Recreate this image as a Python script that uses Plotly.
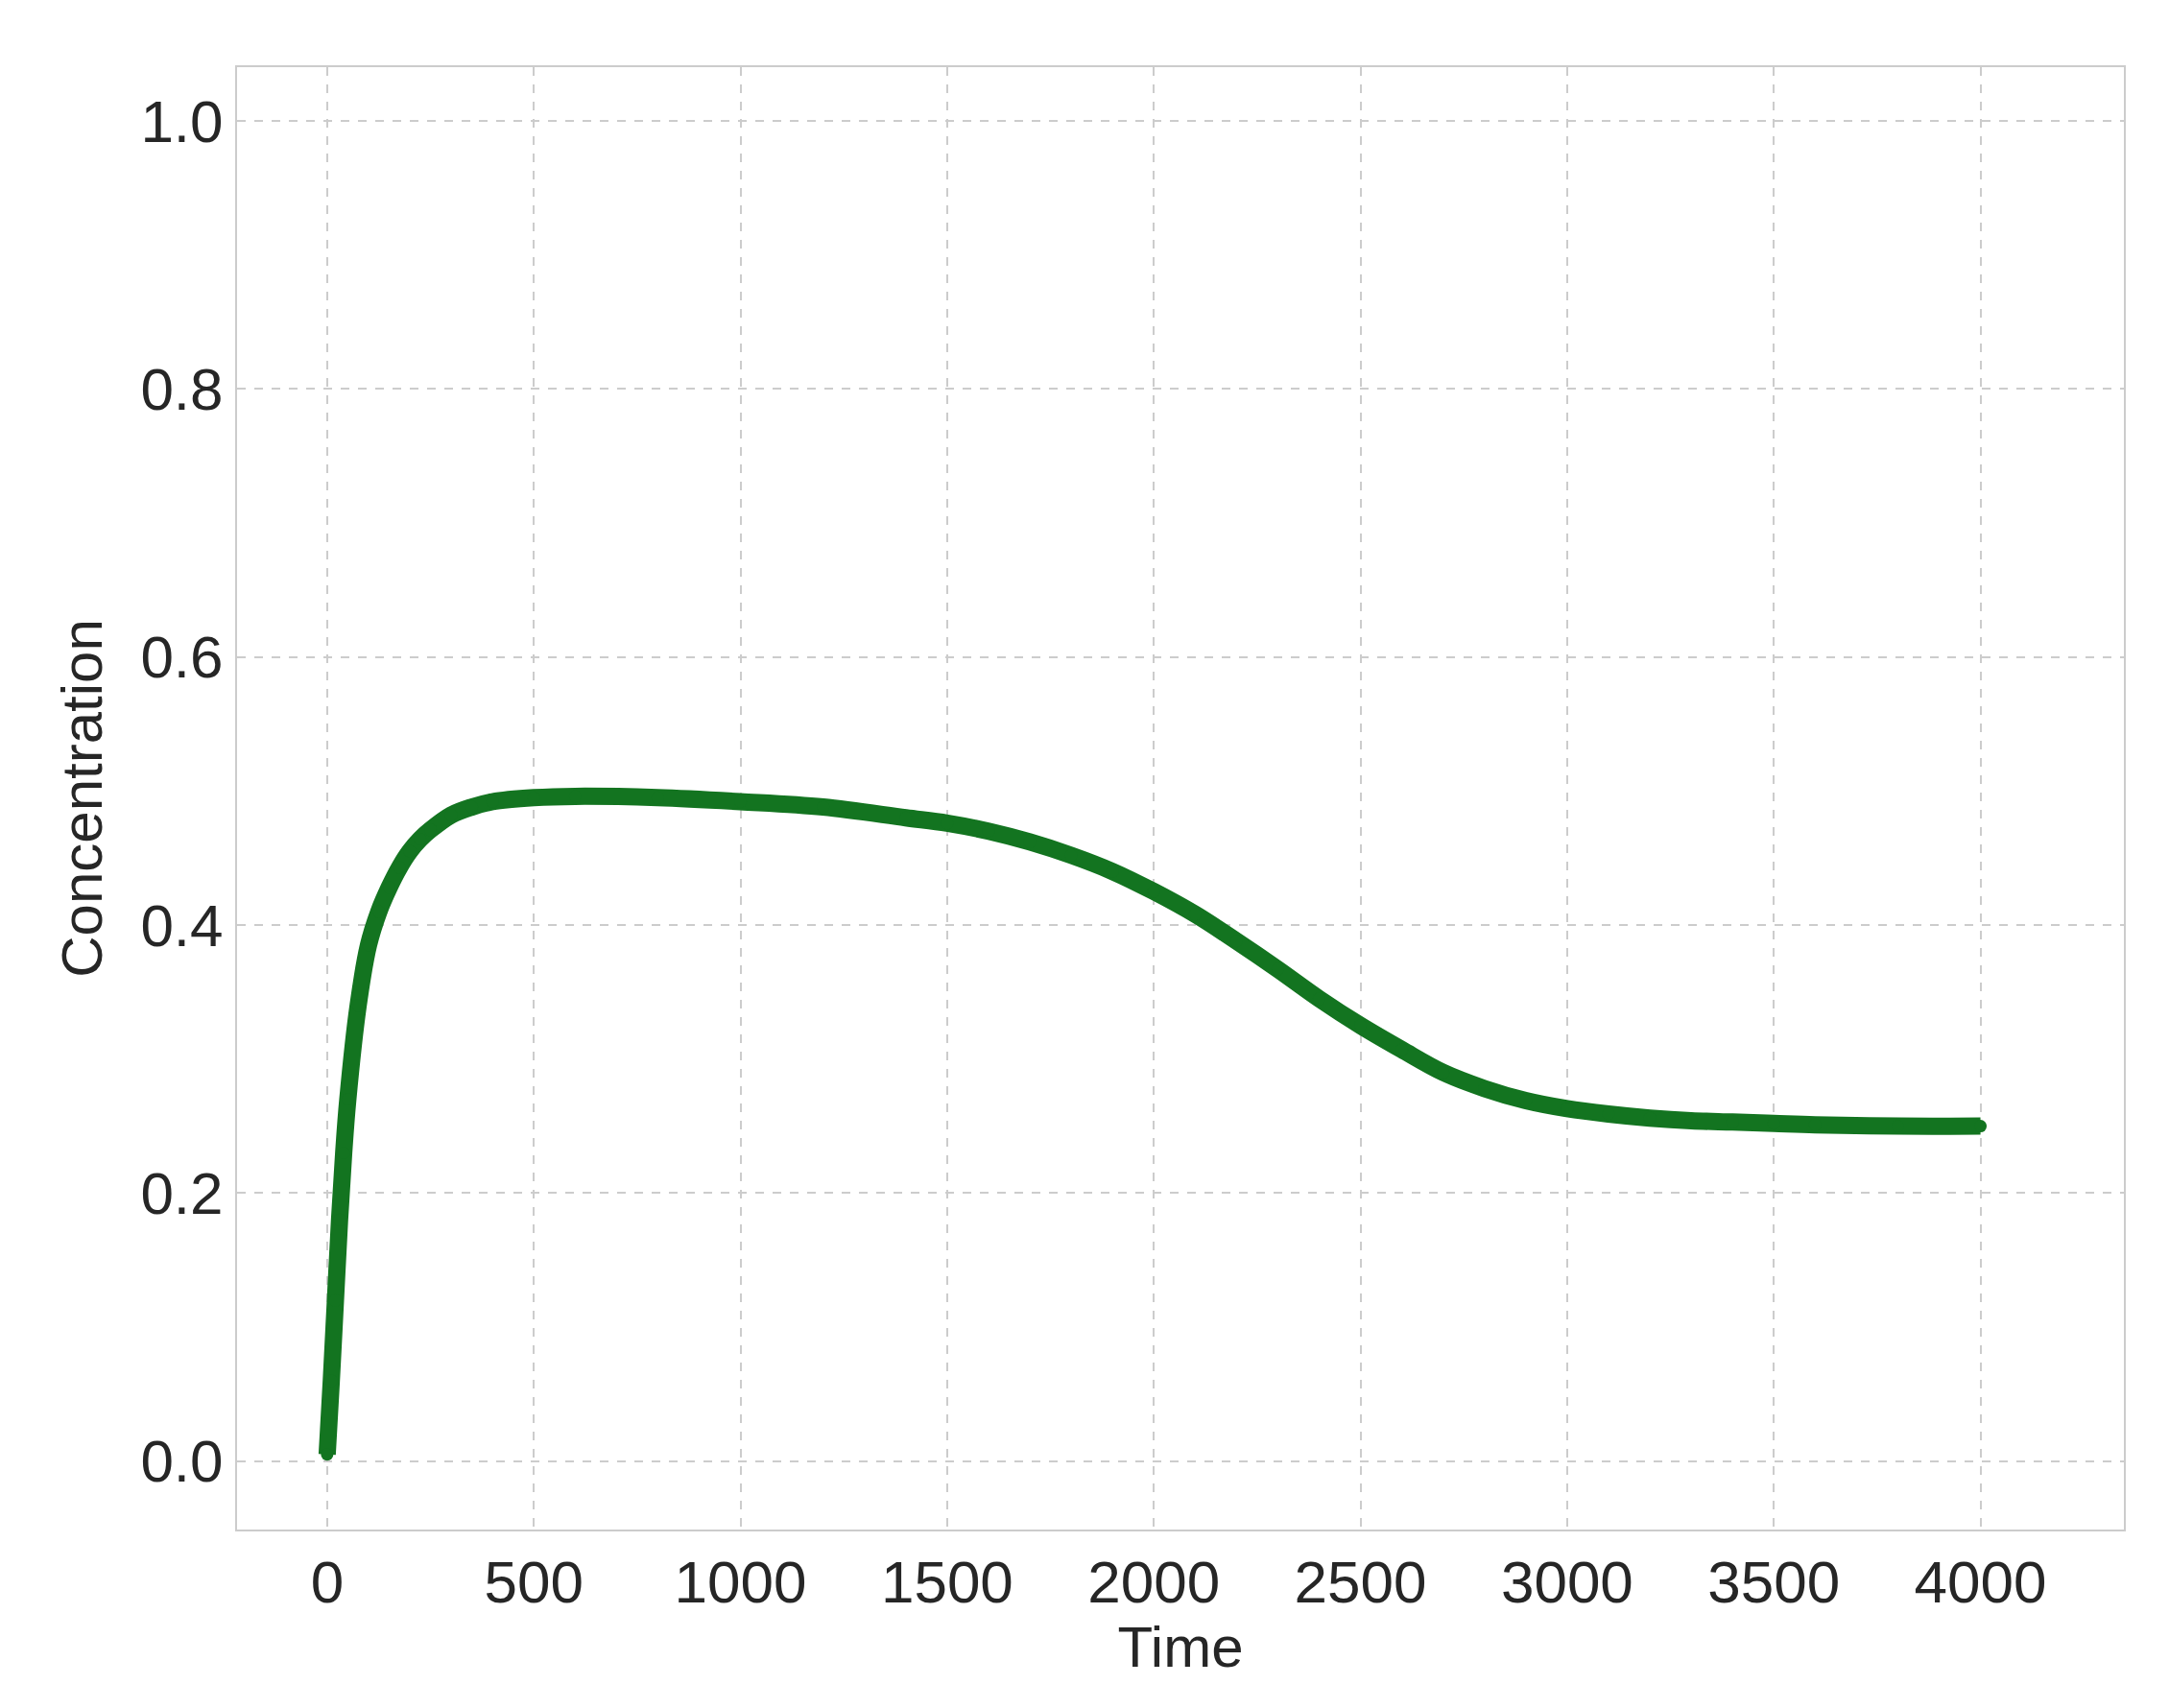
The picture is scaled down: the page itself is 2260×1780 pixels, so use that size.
import plotly.graph_objects as go

time = [0, 10, 20, 30, 40, 50, 75, 100, 125, 150, 175, 200, 225, 250, 300, 350, 400, 500, 600, 800, 1000, 1200, 1400, 1500, 1600, 1700, 1800, 1900, 2000, 2100, 2200, 2300, 2400, 2500, 2600, 2700, 2800, 2900, 3000, 3100, 3200, 3300, 3400, 3500, 3600, 3800, 4000]
conc = [0.005, 0.06, 0.12, 0.18, 0.23, 0.27, 0.34, 0.385, 0.41, 0.428, 0.443, 0.455, 0.464, 0.471, 0.482, 0.488, 0.492, 0.495, 0.496, 0.495, 0.492, 0.488, 0.48, 0.476, 0.47, 0.462, 0.452, 0.44, 0.425, 0.408, 0.388, 0.367, 0.345, 0.325, 0.307, 0.29, 0.278, 0.269, 0.263, 0.259, 0.256, 0.254, 0.253, 0.252, 0.251, 0.25, 0.25]

green = "#137420"
fig = go.Figure(go.Scatter(x=time, y=conc, mode="lines+markers", line=dict(color=green, width=18, shape="spline"),
                           marker=dict(color=green, size=13)))
axis = dict(showgrid=True, gridcolor="#cccccc", griddash="dash", gridwidth=2, zeroline=False,
            showline=True, linecolor="#cccccc", linewidth=2, mirror=True, ticks="",
            tickfont=dict(size=62, color="#262626"), title_font=dict(size=60, color="#262626"))
fig.update_layout(width=2260, height=1780, plot_bgcolor="white", paper_bgcolor="white",
                  font=dict(family="Liberation Sans"), showlegend=False,
                  margin=dict(l=239, r=55, t=62, b=194))
fig.update_xaxes(**axis, range=[-218, 4347], tickvals=list(range(0, 4001, 500)), title_text="Time", title_standoff=5)
fig.update_yaxes(**axis, range=[-0.051, 1.04], tickvals=[0, 0.2, 0.4, 0.6, 0.8, 1.0], tickformat=".1f", title_text="Concentration", title_standoff=20)
fig.write_html("out.html")
